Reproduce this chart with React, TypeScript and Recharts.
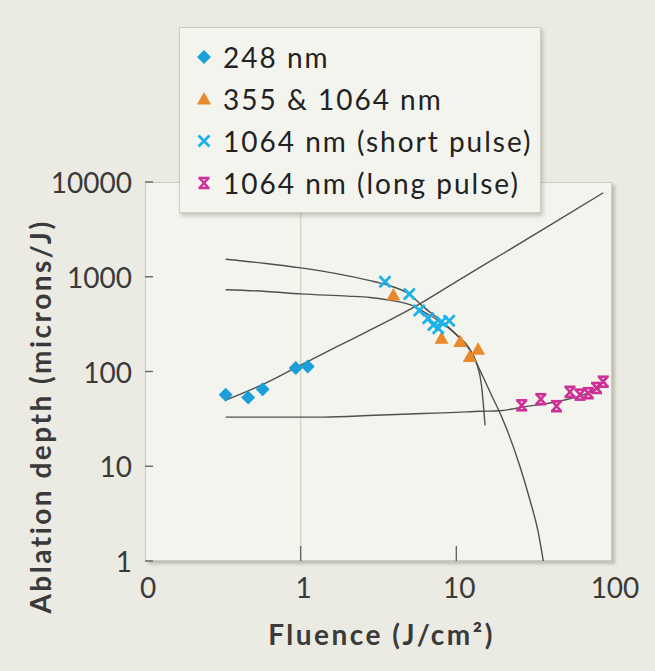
import { ComposedChart, Line, Scatter, XAxis, YAxis, ReferenceLine } from 'recharts';

// tick values (log axes); the original labels 0.1 as "0"
const xTicks = [0.1, 1, 10, 100];
const xTickLabels = ['0', '1', '10', '100'];
const yTicks = [1, 10, 100, 1000, 10000];

// measured points [fluence, depth]
const pts248 = [[0.33, 57], [0.46, 53], [0.57, 65], [0.93, 109], [1.11, 113]];
const pts355 = [[3.94, 643], [8.03, 224], [10.6, 207], [12.2, 144], [13.8, 172]];
const ptsShort = [[3.48, 887], [4.99, 659], [5.78, 440], [6.6, 365], [7.12, 310], [7.66, 286], [8.04, 336], [9.0, 344]];
const ptsLong = [[26.3, 44], [34.9, 51], [44, 43], [53.7, 61], [62.3, 57], [70.4, 59], [79.6, 67], [87.8, 78]];

// fitted curves
const fitPower = [[0.33, 50], [0.6, 76], [1, 117], [2, 208], [3.75, 350], [5.42, 484], [10, 890], [20, 1760], [40, 3500], [88, 7700]];
const fitUpper = [[0.33, 1530], [0.6, 1380], [1, 1240], [1.7, 1080], [2.79, 910], [3.48, 830], [4.99, 653], [6.12, 484], [7.85, 350], [10.05, 243], [12.2, 169], [13.5, 122], [15.3, 79], [17.3, 51], [18.6, 40], [21, 25], [25.6, 10], [29.7, 4.4], [33.6, 2], [36.2, 1]];
const fitMiddle = [[0.33, 730], [0.6, 700], [1, 660], [2, 625], [2.79, 605], [3.75, 565], [5.29, 492], [6.5, 405], [8, 330], [10, 245], [12.2, 172], [13.5, 122], [14.5, 72], [15.3, 27]];
const fitLong = [[0.33, 33], [1, 33], [1.4, 33], [3, 34.5], [6.1, 36], [10, 37], [14.1, 38], [19, 38.5], [26.3, 42], [44, 48], [62, 55], [88, 70]];

const toXY = (arr: number[][]) => arr.map(([x, y]) => ({ x, y }));

const FONT = 'Lato, sans-serif';
const BLUE = '#1a9fd9';
const ORANGE = '#e8892b';
const CYAN = '#1cb2e8';
const MAGENTA = '#cf2f97';
const LINE = '#4f4f4f';

const Diamond = ({ cx, cy, c = BLUE }: any) => (
  <polygon points={`${cx},${cy - 7} ${cx + 7},${cy} ${cx},${cy + 7} ${cx - 7},${cy}`} fill={c} />
);
const Tri = ({ cx, cy, c = ORANGE }: any) => (
  <polygon points={`${cx},${cy - 7} ${cx + 7},${cy + 5.5} ${cx - 7},${cy + 5.5}`} fill={c} />
);
const Cross = ({ cx, cy, c = CYAN }: any) => (
  <g stroke={c} strokeWidth={2.8}>
    <line x1={cx - 5.5} y1={cy - 5.5} x2={cx + 5.5} y2={cy + 5.5} />
    <line x1={cx + 5.5} y1={cy - 5.5} x2={cx - 5.5} y2={cy + 5.5} />
  </g>
);
const Star = ({ cx, cy, c = MAGENTA }: any) => (
  <g stroke={c} strokeWidth={2.6}>
    <line x1={cx - 4.5} y1={cy - 5} x2={cx + 4.5} y2={cy + 5} />
    <line x1={cx + 4.5} y1={cy - 5} x2={cx - 4.5} y2={cy + 5} />
    <line x1={cx - 5.5} y1={cy - 5} x2={cx + 5.5} y2={cy - 5} />
    <line x1={cx - 5.5} y1={cy + 5} x2={cx + 5.5} y2={cy + 5} />
  </g>
);

const XTick = ({ x, y, payload }: any) => {
  const i = xTicks.indexOf(payload.value);
  const inner = payload.value > 0.1 && payload.value < 100;
  return (
    <g>
      {inner && <line x1={x} x2={x} y1={y} y2={y - 15} stroke="#666" strokeWidth={1.4} />}
      <text x={x + 3} y={y + 26} textAnchor="middle" dominantBaseline="central" fill="#3a3a3a" fontSize={28} fontFamily={FONT}>
        {xTickLabels[i]}
      </text>
    </g>
  );
};

const YTick = ({ x, y, payload }: any) => (
  <g>
    <line x1={x} x2={x + 8} y1={y} y2={y} stroke="#666" strokeWidth={1.4} />
    <text x={x - 13} y={y} textAnchor="end" dominantBaseline="central" fill="#3a3a3a" fontSize={28} fontFamily={FONT}>
      {payload.value}
    </text>
  </g>
);

const YTitle = ({ viewBox }: any) => {
  const cx = viewBox.x + 40;
  const cy = viewBox.y + viewBox.height / 2 + 45;
  return (
    <text x={cx} y={cy} transform={`rotate(-90 ${cx} ${cy})`} textAnchor="middle" dominantBaseline="central"
      fill="#3a3a3a" fontSize={28} fontWeight={700} letterSpacing={2.5} fontFamily={FONT}>
      Ablation depth (microns/J)
    </text>
  );
};

const XTitle = ({ viewBox }: any) => (
  <text x={viewBox.x + viewBox.width / 2 + 3} y={viewBox.y + 73} textAnchor="middle" dominantBaseline="central"
    fill="#3a3a3a" fontSize={28} fontWeight={700} letterSpacing={2.5} fontFamily={FONT}>
    Fluence (J/cm²)
  </text>
);

const legendItems = [
  { label: '248 nm', Icon: Diamond },
  { label: '355 & 1064 nm', Icon: Tri },
  { label: '1064 nm (short pulse)', Icon: Cross },
  { label: '1064 nm (long pulse)', Icon: Star },
];

const App = () => {
  return (
    <div style={{ position: 'absolute', left: 0, top: 0, width: 655, height: 671, background: '#ebebe3', overflow: 'hidden' }}>
      {/* plot frame */}
      <div style={{
        position: 'absolute', left: 145, top: 182, width: 467, height: 379, boxSizing: 'border-box',
        background: '#f4f4ef', border: '1px solid #cbcbc1', boxShadow: '3px 3px 3px rgba(110,110,90,0.35)',
      }} />
      <div style={{ position: 'absolute', left: 0, top: 0 }}>
        <ComposedChart width={655} height={671} margin={{ top: 182, right: 43, bottom: 0, left: 0 }}>
          <XAxis dataKey="x" type="number" scale="log" domain={[0.1, 100]} allowDataOverflow ticks={xTicks}
            interval={0} height={110} axisLine={false} tickLine={false} tickSize={0} tickMargin={0}
            tick={<XTick />} label={<XTitle />} />
          <YAxis type="number" scale="log" domain={[1, 10000]} allowDataOverflow ticks={yTicks}
            interval={0} width={145} axisLine={false} tickLine={false} tickSize={0} tickMargin={0}
            tick={<YTick />} label={<YTitle />} />
          <ReferenceLine x={1} stroke="#d6d6cc" strokeWidth={1.5} />
          <Line data={toXY(fitLong)} dataKey="y" type="monotone" stroke={LINE} strokeWidth={1.4} dot={false} isAnimationActive={false} />
          <Line data={toXY(fitPower)} dataKey="y" type="monotone" stroke={LINE} strokeWidth={1.4} dot={false} isAnimationActive={false} />
          <Line data={toXY(fitUpper)} dataKey="y" type="monotone" stroke={LINE} strokeWidth={1.4} dot={false} isAnimationActive={false} />
          <Line data={toXY(fitMiddle)} dataKey="y" type="monotone" stroke={LINE} strokeWidth={1.4} dot={false} isAnimationActive={false} />
          <Scatter data={toXY(pts248)} dataKey="y" shape={(p: any) => <Diamond cx={p.cx} cy={p.cy} />} isAnimationActive={false} />
          <Scatter data={toXY(pts355)} dataKey="y" shape={(p: any) => <Tri cx={p.cx} cy={p.cy} />} isAnimationActive={false} />
          <Scatter data={toXY(ptsShort)} dataKey="y" shape={(p: any) => <Cross cx={p.cx} cy={p.cy} />} isAnimationActive={false} />
          <Scatter data={toXY(ptsLong)} dataKey="y" shape={(p: any) => <Star cx={p.cx} cy={p.cy} />} isAnimationActive={false} />
        </ComposedChart>
      </div>
      {/* legend box */}
      <div style={{
        position: 'absolute', left: 179, top: 27, width: 362, height: 186, boxSizing: 'border-box',
        background: '#f4f4ef', border: '1px solid #cdcdc4', boxShadow: '2px 3px 4px rgba(90,90,70,0.3)',
        paddingTop: 8, fontFamily: FONT,
      }}>
        {legendItems.map(({ label, Icon }) => (
          <div key={label} style={{ display: 'flex', alignItems: 'center', height: 42 }}>
            <svg width={38} height={20} style={{ marginLeft: 5 }}>
              <Icon cx={19} cy={10} />
            </svg>
            <span style={{ fontSize: 28, color: '#222', letterSpacing: 2 }}>{label}</span>
          </div>
        ))}
      </div>
    </div>
  );
};

export default App;
